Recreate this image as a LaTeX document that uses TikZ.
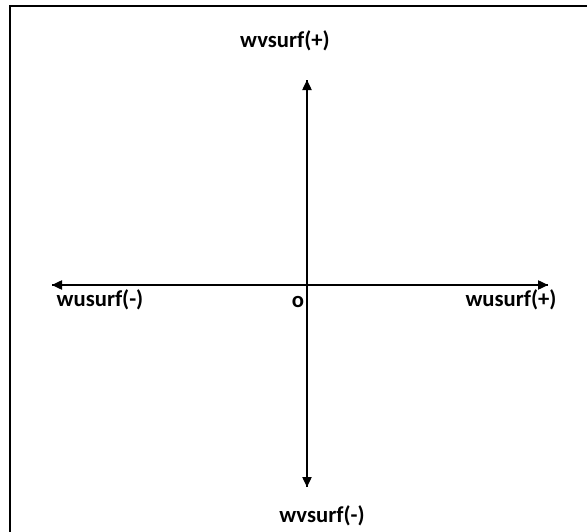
\documentclass[tikz,border=0pt]{standalone}
\usepackage{fontspec}
\setmainfont{Carlito}
\usetikzlibrary{arrows.meta, positioning}

\begin{document}
\begin{tikzpicture}[x=0.75pt,y=-0.75pt,
    axis/.style={line width=1pt,-{Triangle[length=7.5pt,width=7pt]}},
    lbl/.style={font=\bfseries\fontsize{17}{19}\selectfont,inner sep=0pt}]
    \useasboundingbox (0,0) rectangle (587,532);

    % frame (only left and top edges show)
    \draw[line width=1.5pt] (10,540) -- (10,6) -- (595,6);

    \coordinate (O) at (307,285);
    \coordinate (N) at (307,80);
    \coordinate (S) at (307,487);
    \coordinate (W) at (52,285);
    \coordinate (E) at (548,285);

    \draw[axis] (S) -- (N);
    \draw[axis] (N) -- (S);
    \draw[axis] (E) -- (W);
    \draw[axis] (W) -- (E);

    \node[lbl] (vplus) at (285,41) {wvsurf(+)};
    \node[lbl] (vminus) at (322,516) {wvsurf(-)};
    \node[lbl] (uminus) at (100,300) {wusurf(-)};
    \node[lbl] (uplus) at (511,300) {wusurf(+)};
    \node[lbl] (origin) at (298,302) {o};
\end{tikzpicture}
\end{document}
